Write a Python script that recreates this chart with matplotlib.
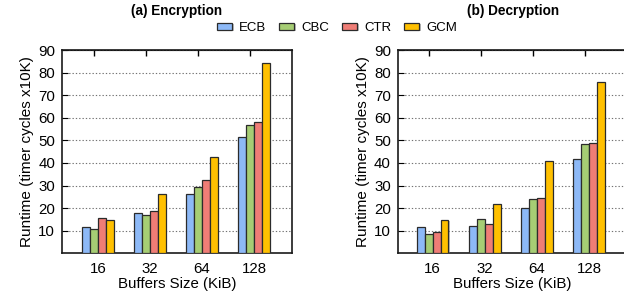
import numpy as np
import matplotlib.pyplot as plt
import matplotlib.patheffects as pe

plt.rcParams['font.family'] = ['Liberation Sans', 'DejaVu Sans']

sizes = ['16', '32', '64', '128']
modes = ['ECB', 'CBC', 'CTR', 'GCM']
colors = ['#8db9f7', '#a6cd74', '#ef7d76', '#ffc000']

# runtime in timer cycles x10K
enc = {
    'ECB': [11.8, 18.0, 26.4, 51.6],
    'CBC': [10.9, 16.8, 29.5, 56.8],
    'CTR': [15.5, 18.6, 32.6, 58.3],
    'GCM': [14.8, 26.4, 42.8, 84.1],
}
dec = {
    'ECB': [11.8, 12.2, 19.9, 41.6],
    'CBC': [8.6, 15.0, 23.9, 48.4],
    'CTR': [9.6, 12.8, 24.6, 49.0],
    'GCM': [14.8, 21.7, 41.0, 76.0],
}

fig = plt.figure(figsize=(6.24, 3.01), dpi=100)
ax1 = fig.add_axes([62 / 624, 1 - 253.3 / 301, 230 / 624, 203.3 / 301])
ax2 = fig.add_axes([397.7 / 624, 1 - 253.3 / 301, 230 / 624, 203.3 / 301])

x = np.arange(len(sizes))
w = 0.151
shadow = [pe.SimplePatchShadow(offset=(1, -1), shadow_rgbFace='0.5', alpha=0.5), pe.Normal()]


def draw(ax, data, title, x0):
    for i, m in enumerate(modes):
        ax.bar(x + (i - 1.5) * w, data[m], w, color=colors[i], edgecolor='#2b2b2b',
               linewidth=0.9, zorder=3, label=m, path_effects=shadow)
    ax.set_xlim(x0, x0 + 4.41)
    ax.set_ylim(0, 90)
    ax.set_yticks(range(10, 91, 10))
    ax.set_xticks(x)
    ax.set_xticklabels(sizes)
    ax.tick_params(axis='x', length=0, labelsize=10.8, pad=6)
    ax.tick_params(axis='y', direction='in', length=4, labelsize=10.8, pad=5)
    ax.yaxis.grid(True, linestyle=(0, (1.2, 1.8)), color='0.45', linewidth=0.8, zorder=0)
    ax.set_axisbelow(True)
    for s in ax.spines.values():
        s.set_linewidth(1.2)
        s.set_color('#1a1a1a')
    top = ax.secondary_xaxis('top')
    top.set_xticks(x - 0.078)
    top.set_xticklabels([])
    top.tick_params(direction='in', length=4, width=1)
    ax.set_xlabel('Buffers Size (KiB)', fontsize=10.8, labelpad=1)
    ax.set_ylabel('Runtime (timer cycles x10K)', fontsize=11, labelpad=3)
    ax.set_title(title, fontsize=9.8, fontweight='bold', pad=25)


draw(ax1, enc, '(a) Encryption', -0.686)
draw(ax2, dec, '(b) Decryption', -0.67)

h, l = ax1.get_legend_handles_labels()
fig.legend(h, l, loc='center', bbox_to_anchor=(337 / 624, 1 - 28 / 301), ncol=4,
           frameon=False, fontsize=9.5, handlelength=1.15, handleheight=0.45,
           columnspacing=1.0, handletextpad=0.5)

fig.savefig('out.png', dpi=100)
